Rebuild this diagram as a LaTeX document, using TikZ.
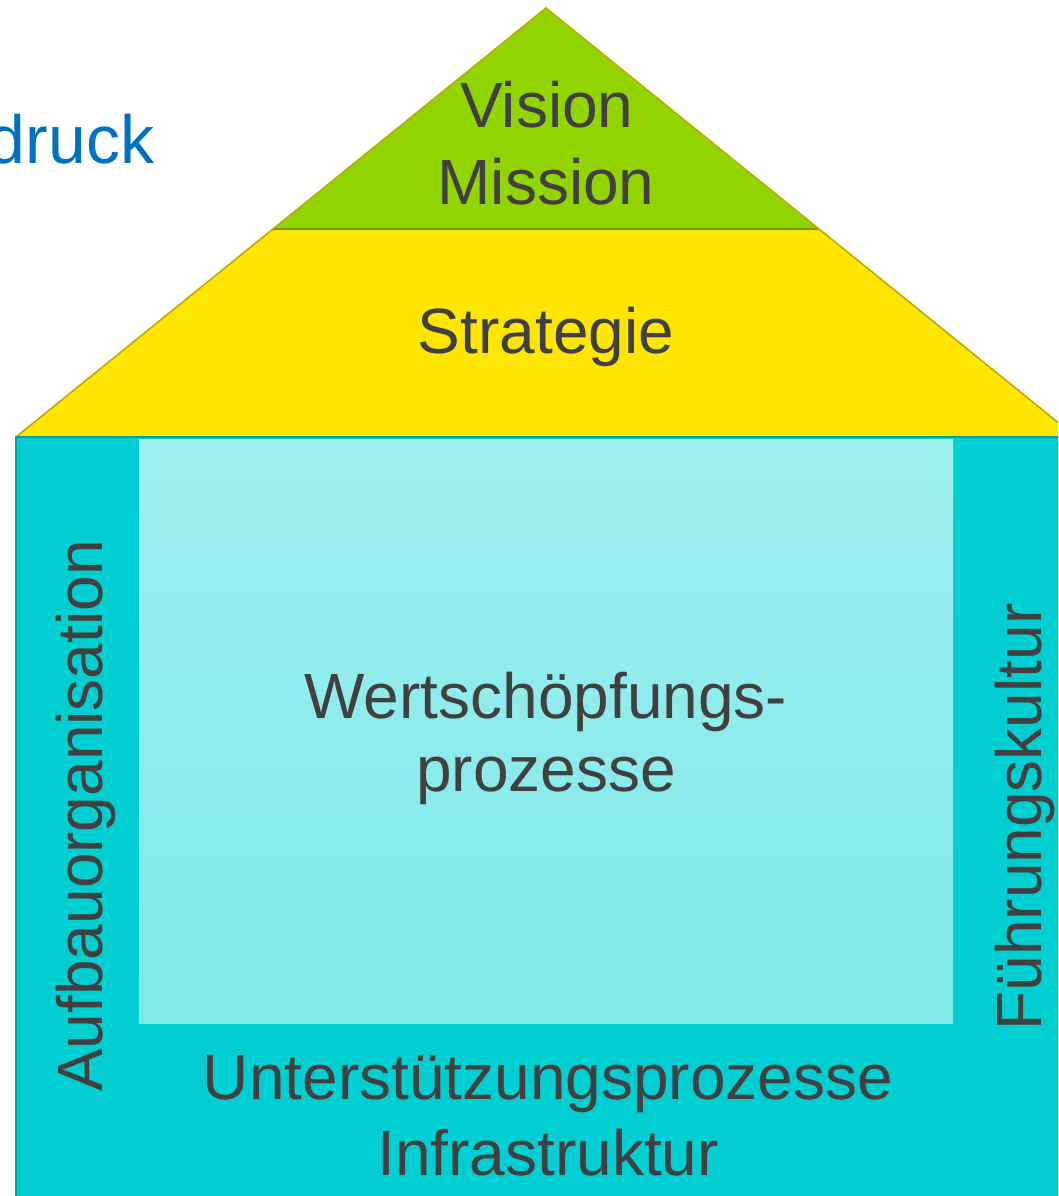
\documentclass[tikz,border=0pt]{standalone}
\usepackage{fontspec}
\setmainfont{Liberation Sans}
\definecolor{txt}{RGB}{64,64,64}
\definecolor{blu}{RGB}{0,112,192}
\definecolor{grn}{RGB}{146,212,0}
\definecolor{grnline}{RGB}{110,160,0}
\definecolor{yel}{RGB}{255,230,0}
\definecolor{roofline}{RGB}{190,170,0}
\definecolor{teal}{RGB}{0,206,208}
\definecolor{tealline}{RGB}{0,160,160}
\definecolor{lighttop}{RGB}{158,240,240}
\definecolor{lightbot}{RGB}{126,232,230}
\tikzset{
  lbl/.style={font=\fontsize{48}{58}\selectfont, text=txt, inner sep=0pt, anchor=base},
}
\begin{document}
\begin{tikzpicture}[x=0.75pt,y=-0.75pt]
\useasboundingbox (0,0) rectangle (1058,1196);
\begin{scope}
\clip (0,0) rectangle (1058,1196);
% body
\fill[teal] (16,437) rectangle (1080,1200);
\draw[tealline, line width=1.2pt] (16,1200) -- (16,437) -- (1080,437);
% inner light panel
\shade[top color=lighttop, bottom color=lightbot] (139,439.5) rectangle (953,1023);
% roof
\fill[yel] (16,437) -- (546,8) -- (1076,437) -- cycle;
\fill[grn] (273,229) -- (546,8) -- (819,229) -- cycle;
\draw[grnline, line width=1.2pt] (273,229) -- (819,229);
\draw[roofline, line width=1.2pt] (16,437) -- (546,8) -- (1076,437);
\draw[tealline, line width=1.5pt] (16,437) -- (1080,437);
% partly hidden title
\node[lbl, text=blu, font=\fontsize{51}{60}\selectfont] (druck) at (71,163) {druck};
\end{scope}
% texts
\node[lbl] (vision) at (547,127) {Vision};
\node[lbl] (mission) at (546,204) {Mission};
\node[lbl] (strategie) at (546,353) {Strategie};
\node[lbl] (wert) at (546,718) {Wertschöpfungs-};
\node[lbl] (proz) at (546,791) {prozesse};
\node[lbl] (unter) at (548,1099) {Unterstützungsprozesse};
\node[lbl] (infra) at (548,1175) {Infrastruktur};
\node[lbl, rotate=90] (aufbau) at (102,816) {Aufbauorganisation};
\node[lbl, rotate=90] (fuehrung) at (1041,817) {Führungskultur};
\end{tikzpicture}
\end{document}
